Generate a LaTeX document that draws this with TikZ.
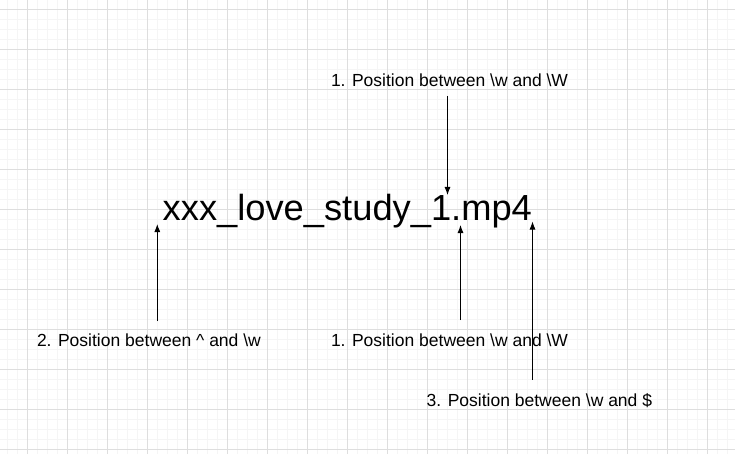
\documentclass[tikz,border=0pt]{standalone}
\usepackage{fontspec}
\setmainfont{Liberation Sans}
\usetikzlibrary{arrows.meta}
\tikzstyle{gridminor}=[draw=black!4, line width=0.5pt]
\tikzstyle{gridmajor}=[draw=black!13, line width=0.8pt]
\tikzstyle{note}=[anchor=base west, inner sep=0pt, font=\fontsize{17.5}{21}\selectfont]
\tikzstyle{filename}=[anchor=base west, inner sep=0pt, font=\fontsize{36.3}{43}\selectfont]
\tikzstyle{arrow}=[line width=0.9pt, >={Latex[length=8pt, width=6pt]}]

\begin{document}
\begin{tikzpicture}[x=1pt, y=-1pt]
		   \useasboundingbox (0,0) rectangle (735,454);
		   \fill[white] (0,0) rectangle (735,454);
		   \begin{scope}
			   \foreach \gx in {7,17,...,727} \path[gridminor] (\gx,0) -- (\gx,454);
			   \foreach \gy in {9,19,...,449} \path[gridminor] (0,\gy) -- (735,\gy);
			   \foreach \gx in {27,67,...,707} \path[gridmajor] (\gx,0) -- (\gx,454);
			   \foreach \gy in {9,49,...,449} \path[gridmajor] (0,\gy) -- (735,\gy);
		   \end{scope}
		   \begin{scope}
			   \node (file)[filename] at (162.5, 221) {xxx\_love\_study\_1.mp4};
			   \node (wWtop)[note] at (330.8, 86.7) {1. Position between \textbackslash w and \textbackslash W};
			   \node (startw)[note] at (36.8, 346.7) {2. Position between \textasciicircum{} and \textbackslash w};
			   \node (wWbot)[note] at (330.8, 346.7) {1. Position between \textbackslash w and \textbackslash W};
			   \node (wend)[note] at (426.5, 406) {3. Position between \textbackslash w and \$};
			   \coordinate (wWtoptail) at (447.5, 96);
			   \coordinate (wWtoptip) at (447.5, 195);
			   \coordinate (startwtail) at (157.3, 321);
			   \coordinate (startwtip) at (157.3, 224);
			   \coordinate (wWbottail) at (460.5, 320);
			   \coordinate (wWbottip) at (460.5, 225);
			   \coordinate (wendtail) at (532.5, 379.5);
			   \coordinate (wendtip) at (532.5, 221.5);
		   \end{scope}
		   \begin{scope}
			   \path [arrow, ->] (wWtoptail) edge (wWtoptip);
			   \path [arrow, ->] (startwtail) edge (startwtip);
			   \path [arrow, ->] (wWbottail) edge (wWbottip);
			   \path [arrow, ->] (wendtail) edge (wendtip);
		   \end{scope}
	   \end{tikzpicture}
\end{document}
